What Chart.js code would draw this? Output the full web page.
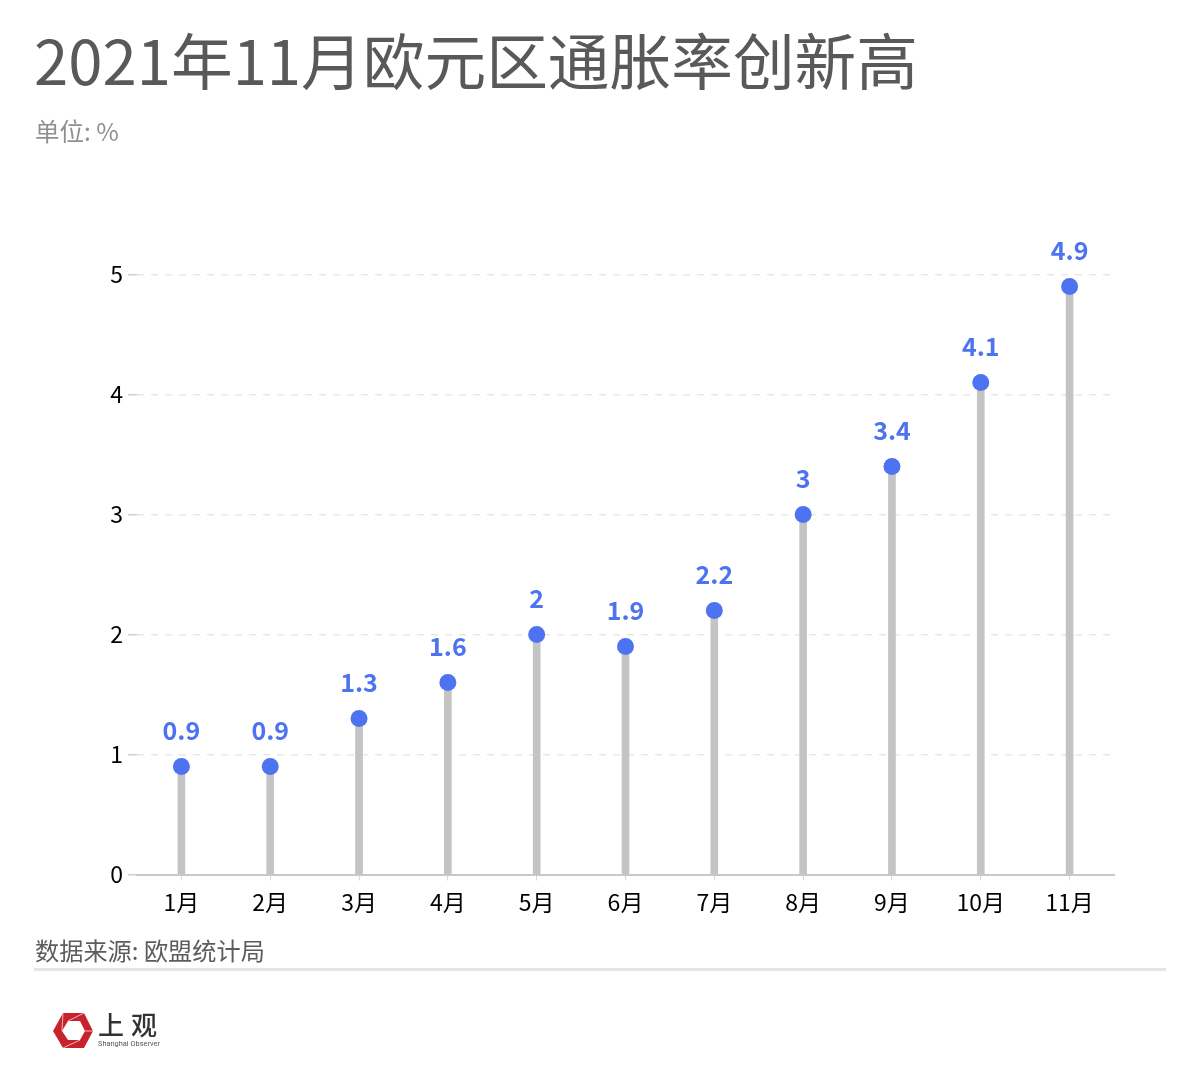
<!DOCTYPE html>
<html><head><meta charset="utf-8">
<script src="https://cdn.jsdelivr.net/npm/chart.js@4/dist/chart.umd.min.js"></script>
<style>
html,body{margin:0;padding:0;background:#fff;width:1200px;height:1080px;overflow:hidden;font-family:"Noto Sans CJK SC",sans-serif}
.t{position:absolute;white-space:nowrap;line-height:1}
#c{position:absolute;left:0;top:0}
</style></head><body>
<canvas id="c" width="1200" height="1080" style="width:1200px;height:1080px"></canvas>
<div class="t" id="title" style="left:34px;top:28px;font-size:61.7px;color:#595959">2021年11月欧元区通胀率创新高</div>
<div class="t" id="unit" style="left:35px;top:119px;font-size:24.500px;color:#8f8f8f">单位: %</div>
<div class="t" id="source" style="left:35px;top:938px;font-size:24.200px;color:#5c5c5c">数据来源: 欧盟统计局</div>
<div style="position:absolute;left:34px;top:968px;width:1132px;height:3px;background:#e4e4e4"></div>
<svg style="position:absolute;left:53px;top:1012px" width="42" height="37" viewBox="0 0 42 37">
<path fill-rule="evenodd" fill="#c8232c" d="M0 19L10 1H31L40 19L31 36H10ZM9 19L15 28H27L32 19L27 9H15Z"/>
<path stroke="#f6d9db" stroke-width="0.800" fill="none" d="M15 9L31 1M32 19L40 19M27 28L10 36M9 19L10 1"/>
</svg>
<div class="t" style="left:98px;top:1011px;font-size:26px;color:#333;font-weight:500;letter-spacing:7px">上观</div>
<div class="t" style="left:98px;top:1040px;font-size:7.400px;color:#555;font-family:Roboto,sans-serif">Shanghai Observer</div>
<script>
const categories=["1月","2月","3月","4月","5月","6月","7月","8月","9月","10月","11月"];
const values=[0.9,0.9,1.3,1.6,2,1.9,2.2,3,3.4,4.1,4.9];
const yTicks=[0,1,2,3,4,5];
const BLUE="#4d73f0",STEM="#c4c4c4";
const labelPlugin={id:"pointLabels",afterDatasetsDraw(chart){
  const {ctx,scales:{x,y}}=chart;
  ctx.save();
  ctx.font='700 25px "Noto Sans CJK SC"';
  ctx.fillStyle=BLUE;ctx.textAlign="center";ctx.textBaseline="middle";
  values.forEach((v,i)=>ctx.fillText(String(v),x.getPixelForValue(i),y.getPixelForValue(v)-36));
  ctx.restore();
}};
new Chart(document.getElementById("c"),{
  data:{labels:categories,datasets:[
    {type:"line",data:values,showLine:false,pointRadius:8.5,pointHoverRadius:8.5,pointBackgroundColor:BLUE,pointBorderWidth:0,clip:false,order:0},
    {type:"bar",data:values,backgroundColor:STEM,barThickness:7,order:1}
  ]},
  plugins:[labelPlugin],
  options:{
    responsive:false,animation:false,devicePixelRatio:1,
    layout:{padding:{left:0,right:86,top:274.5,bottom:0}},
    plugins:{legend:{display:false},tooltip:{enabled:false},title:{display:false}},
    scales:{
      x:{
        afterFit(s){s.height=205.5},
        grid:{display:true,offset:false,drawOnChartArea:false,tickLength:6,tickColor:"#d8d8d8",lineWidth:1},
        border:{color:"#c8c8c8",width:2},
        ticks:{color:"#000",font:{family:'"Noto Sans CJK SC"',size:23},padding:8,maxRotation:0,autoSkip:false}
      },
      y:{
        min:0,max:5,
        afterFit(s){s.width=137},
        afterBuildTicks(s){s.ticks=yTicks.map(v=>({value:v}))},
        grid:{color:c=>c.tick&&c.tick.value===0?"#c8c8c8":"#e8e8e8",tickBorderDash:[],tickColor:"#d0d0d0",tickLength:9,lineWidth:1.500},
        border:{display:false,dash:[7,7]},
        ticks:{color:"#000",font:{family:'"Noto Sans CJK SC"',size:23},padding:5}
      }
    }
  }
});
</script></body></html>
